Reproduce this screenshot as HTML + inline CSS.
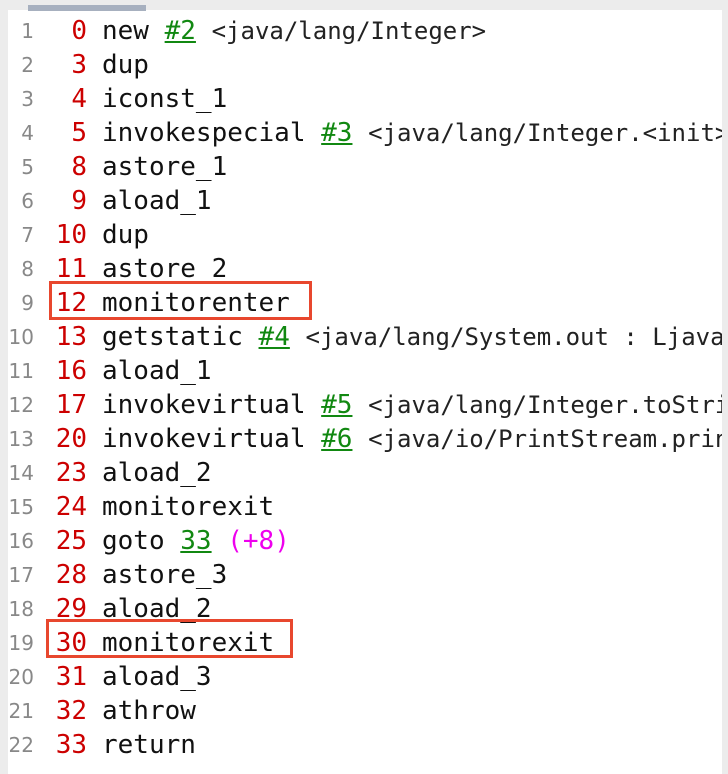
<!DOCTYPE html>
<html><head><style>
body{margin:0;width:728px;height:774px;background:#fff;position:relative;overflow:hidden}
.top{position:absolute;left:0;top:0;width:728px;height:10px;background:#ececec}
.tab{position:absolute;left:28px;top:5px;width:118px;height:6px;background:#a7b0bf}
.lb{position:absolute;left:0;top:0;width:8px;height:774px;background:#ececec}
.rb{position:absolute;right:0;top:0;width:6px;height:774px;background:#ececec}
.l{position:absolute;left:0;height:34px;white-space:nowrap;width:722px;overflow:hidden}
.n{position:absolute;left:0;top:0;width:34px;text-align:right;font:20px "DejaVu Sans","Liberation Sans",sans-serif;line-height:34px;color:#888}
.o{position:absolute;left:40px;top:0;width:47px;text-align:right;font:26px "DejaVu Sans Mono","Liberation Mono",monospace;line-height:34px;color:#cc0000}
.t{position:absolute;left:102px;top:0;font:26px "DejaVu Sans Mono","Liberation Mono",monospace;line-height:34px;color:#111}
.g{color:#118811;text-decoration:underline}
.s{font-size:24px;color:#222}
.m{color:#ee00ee}
.box{position:absolute;border:3px solid #e8472e;box-sizing:border-box}
</style></head><body>
<div class="top"></div><div class="tab"></div><div class="lb"></div><div class="rb"></div>
<div class="l" style="top:14px"><span class="n">1</span><span class="o">0</span><span class="t">new <span class="g">#2</span> <span class="s">&lt;java/lang/Integer&gt;</span></span></div>
<div class="l" style="top:48px"><span class="n">2</span><span class="o">3</span><span class="t">dup</span></div>
<div class="l" style="top:82px"><span class="n">3</span><span class="o">4</span><span class="t">iconst_1</span></div>
<div class="l" style="top:116px"><span class="n">4</span><span class="o">5</span><span class="t">invokespecial <span class="g">#3</span> <span class="s">&lt;java/lang/Integer.&lt;init&gt;</span></span></div>
<div class="l" style="top:150px"><span class="n">5</span><span class="o">8</span><span class="t">astore_1</span></div>
<div class="l" style="top:184px"><span class="n">6</span><span class="o">9</span><span class="t">aload_1</span></div>
<div class="l" style="top:218px"><span class="n">7</span><span class="o">10</span><span class="t">dup</span></div>
<div class="l" style="top:252px"><span class="n">8</span><span class="o">11</span><span class="t">astore_2</span></div>
<div class="l" style="top:286px"><span class="n">9</span><span class="o">12</span><span class="t">monitorenter</span></div>
<div class="l" style="top:320px"><span class="n">10</span><span class="o">13</span><span class="t">getstatic <span class="g">#4</span> <span class="s">&lt;java/lang/System.out : Ljava/io/PrintStream;&gt;</span></span></div>
<div class="l" style="top:354px"><span class="n">11</span><span class="o">16</span><span class="t">aload_1</span></div>
<div class="l" style="top:388px"><span class="n">12</span><span class="o">17</span><span class="t">invokevirtual <span class="g">#5</span> <span class="s">&lt;java/lang/Integer.toString&gt;</span></span></div>
<div class="l" style="top:422px"><span class="n">13</span><span class="o">20</span><span class="t">invokevirtual <span class="g">#6</span> <span class="s">&lt;java/io/PrintStream.println&gt;</span></span></div>
<div class="l" style="top:456px"><span class="n">14</span><span class="o">23</span><span class="t">aload_2</span></div>
<div class="l" style="top:490px"><span class="n">15</span><span class="o">24</span><span class="t">monitorexit</span></div>
<div class="l" style="top:524px"><span class="n">16</span><span class="o">25</span><span class="t">goto <span class="g">33</span> <span class="m">(+8)</span></span></div>
<div class="l" style="top:558px"><span class="n">17</span><span class="o">28</span><span class="t">astore_3</span></div>
<div class="l" style="top:592px"><span class="n">18</span><span class="o">29</span><span class="t">aload_2</span></div>
<div class="l" style="top:626px"><span class="n">19</span><span class="o">30</span><span class="t">monitorexit</span></div>
<div class="l" style="top:660px"><span class="n">20</span><span class="o">31</span><span class="t">aload_3</span></div>
<div class="l" style="top:694px"><span class="n">21</span><span class="o">32</span><span class="t">athrow</span></div>
<div class="l" style="top:728px"><span class="n">22</span><span class="o">33</span><span class="t">return</span></div>
<div class="box" style="left:49px;top:281px;width:263px;height:39px"></div>
<div class="box" style="left:46px;top:619px;width:247px;height:39px"></div>
</body></html>
